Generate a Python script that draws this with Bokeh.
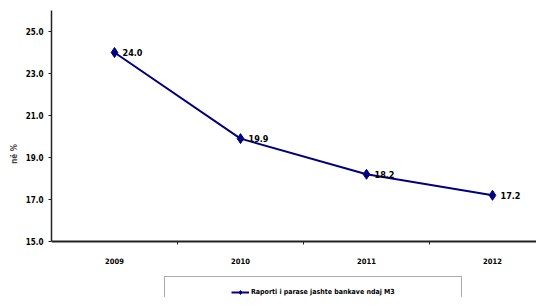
from bokeh.plotting import figure
from bokeh.models import (FixedTicker, NumeralTickFormatter, Range1d, Legend, LegendItem,
                          ColumnDataSource)
from bokeh.core.properties import value
from bokeh.embed import file_html
from bokeh.resources import INLINE

years = ["2009", "2010", "2011", "2012"]
ratio = [24.0, 19.9, 18.2, 17.2]
y_ticks = [15.0, 17.0, 19.0, 21.0, 23.0, 25.0]
y_min, y_max = 15.0, 26.0
series_name = "Raporti i parase jashte bankave ndaj M3"
y_title = "në %"

FONT = "Liberation Sans Narrow, Arial Narrow, DejaVu Sans Condensed, sans-serif"
NAVY = "#000080"

xs = list(range(len(years)))
src = ColumnDataSource(dict(x=xs, y=ratio, lab=[f"{v:.1f}" for v in ratio]))

# frame: left 51, top 10, right 536, bottom 297 (canvas); 21 px per unit, 126 px per year
p = figure(width=536, height=297, output_backend="svg", toolbar_location=None,
           x_range=Range1d(-0.5, -0.5 + 485 / 126),
           y_range=Range1d(y_min - 56 / 21, y_max),
           min_border_left=51, min_border_right=0, min_border_top=10, min_border_bottom=0)
p.outline_line_color = None
p.xgrid.visible = False
p.ygrid.visible = False

# y axis
p.yaxis.bounds = (y_min, y_max)
p.yaxis.ticker = FixedTicker(ticks=y_ticks)
p.yaxis.formatter = NumeralTickFormatter(format="0.0")
p.yaxis.major_label_text_font = FONT
p.yaxis.major_label_text_font_style = "bold"
p.yaxis.major_label_text_font_size = "8px"
p.yaxis.major_label_text_color = "black"
p.yaxis.major_label_standoff = 5
p.yaxis.major_tick_out = 3
p.yaxis.major_tick_in = 0
p.yaxis.minor_tick_out = 0
p.yaxis.minor_tick_in = 0
p.yaxis.axis_line_width = 1.5
p.yaxis.axis_line_color = "#222222"
p.yaxis.major_tick_line_color = "#222222"
p.yaxis.axis_label = y_title
p.yaxis.axis_label_text_font = FONT
p.yaxis.axis_label_text_font_style = "bold"
p.yaxis.axis_label_text_font_size = "8px"
p.yaxis.axis_label_standoff = 4

# x axis drawn at y = 15 inside the frame
p.xaxis.fixed_location = y_min
p.xaxis.ticker = FixedTicker(ticks=xs, minor_ticks=[i + 0.5 for i in xs])
p.xaxis.major_label_overrides = {i: y for i, y in zip(xs, years)}
p.xaxis.major_label_text_font = FONT
p.xaxis.major_label_text_font_style = "bold"
p.xaxis.major_label_text_font_size = "7.5px"
p.xaxis.major_label_text_color = "black"
p.xaxis.major_label_standoff = 13
p.xaxis.major_tick_out = 0
p.xaxis.major_tick_in = 0
p.xaxis.minor_tick_out = 3
p.xaxis.minor_tick_in = 0
p.xaxis.minor_tick_line_color = "#222222"
p.xaxis.axis_line_width = 2
p.xaxis.axis_line_color = "#222222"

# series
ln = p.line("x", "y", source=src, line_color=NAVY, line_width=2)
mk = p.scatter("x", "y", source=src, marker="diamond", size=10,
               fill_color=NAVY, line_color=NAVY)
p.text("x", "y", text="lab", source=src, x_offset=8,
       text_font=value(FONT), text_font_style="bold", text_font_size="9px",
       text_baseline="middle", text_align="left", text_color="black")

# invisible spacer renderer to widen the legend box on both sides
spacer = p.scatter(x=[], y=[], marker="circle", size=1, fill_alpha=0, line_alpha=0)

legend = Legend(items=[LegendItem(label="", renderers=[spacer]),
                       LegendItem(label=series_name, renderers=[ln, mk]),
                       LegendItem(label="", renderers=[spacer])],
                orientation="horizontal",
                location=(113, -11), padding=10, spacing=4, margin=0,
                glyph_width=18, glyph_height=10, label_height=10, label_width=32,
                label_standoff=2,
                label_text_font=FONT, label_text_font_style="bold",
                label_text_font_size="7px", label_text_color="black",
                border_line_color="#555555", border_line_width=1,
                background_fill_color="white", background_fill_alpha=1)
p.add_layout(legend, "center")

open("out.html", "w").write(file_html(p, INLINE))
